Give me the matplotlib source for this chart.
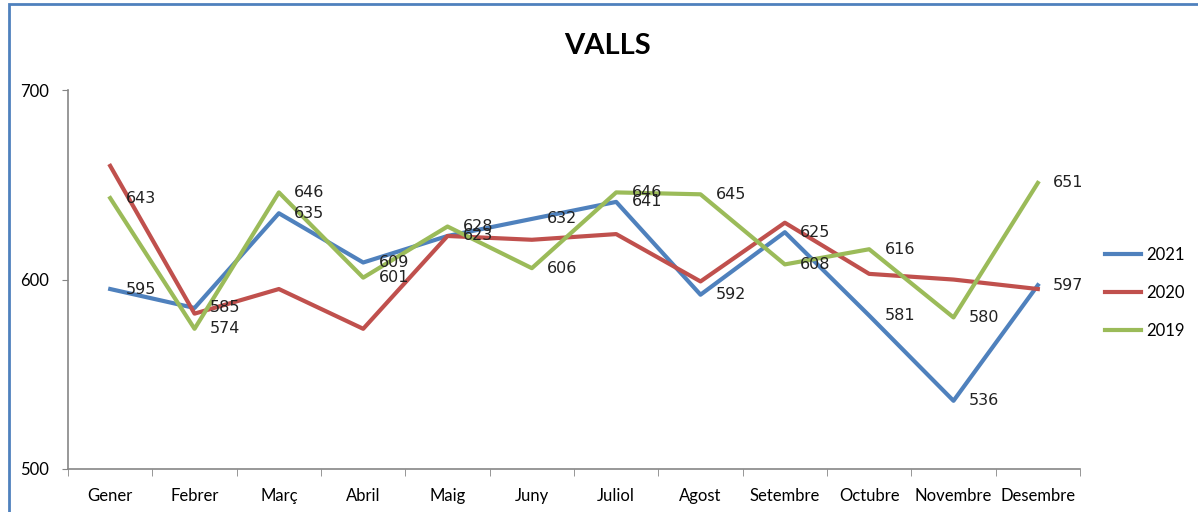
import matplotlib.pyplot as plt
from matplotlib.patches import Rectangle

months = ["Gener", "Febrer", "Març", "Abril", "Maig", "Juny", "Juliol",
          "Agost", "Setembre", "Octubre", "Novembre", "Desembre"]
vals_2021 = [595, 585, 635, 609, 623, 632, 641, 592, 625, 581, 536, 597]
vals_2020 = [660, 582, 595, 574, 623, 621, 624, 599, 630, 603, 600, 595]
vals_2019 = [643, 574, 646, 601, 628, 606, 646, 645, 608, 616, 580, 651]

BLUE = "#4F81BD"
RED = "#C0504D"
GREEN = "#9BBB59"
narrow = ["Lato", "DejaVu Sans"]

fig = plt.figure(figsize=(11.98, 5.12), dpi=100)
ax = fig.add_axes([0.0568, 0.084, 0.8447, 0.740])

x = list(range(len(months)))
ax.plot(x, vals_2021, color=BLUE, lw=3, label="2021")
ax.plot(x, vals_2020, color=RED, lw=3, label="2020")
ax.plot(x, vals_2019, color=GREEN, lw=3, label="2019")

# data labels only for 2021 and 2019
for series in (vals_2021, vals_2019):
    for i, v in enumerate(series):
        ax.annotate(str(v), (i, v), xytext=(11, 0), textcoords="offset points",
                    ha="left", va="center", fontsize=11.5, color="#222222",
                    family="DejaVu Sans")

ax.set_xlim(-0.5, len(months) - 0.5)
ax.set_ylim(500, 700)
ax.set_yticks([500, 600, 700])
ax.set_xticks(x)
ax.set_xticklabels(months, family=narrow, fontsize=12)
for lab in ax.get_yticklabels():
    lab.set_family(narrow)
    lab.set_fontsize(12)

ax.set_xticks([i - 0.5 for i in range(len(months) + 1)], minor=True)
ax.tick_params(axis="x", which="major", length=0, pad=14)
ax.tick_params(axis="x", which="minor", length=5, color="#868686")
ax.tick_params(axis="y", length=4, color="#868686", pad=10)

for side in ("top", "right"):
    ax.spines[side].set_visible(False)
for side in ("left", "bottom"):
    ax.spines[side].set_color("#868686")
    ax.spines[side].set_linewidth(1.2)

fig.text(0.507, 0.91, "VALLS", ha="center", va="center", fontsize=21,
         fontweight="bold", family=narrow)

fig.legend(loc="center left", bbox_to_anchor=(0.922, 0.428), frameon=False,
           prop={"family": narrow, "size": 12}, handlelength=2.2,
           handletextpad=0.3, labelspacing=1.3, borderpad=0,
           borderaxespad=0)

# chart frame partially visible on the left and top
fig.add_artist(Rectangle((0.0075, -0.05), 1.05, 1.042, transform=fig.transFigure,
                         fill=False, edgecolor="#4F81BD", lw=2))

fig.savefig("out.png", dpi=100)
